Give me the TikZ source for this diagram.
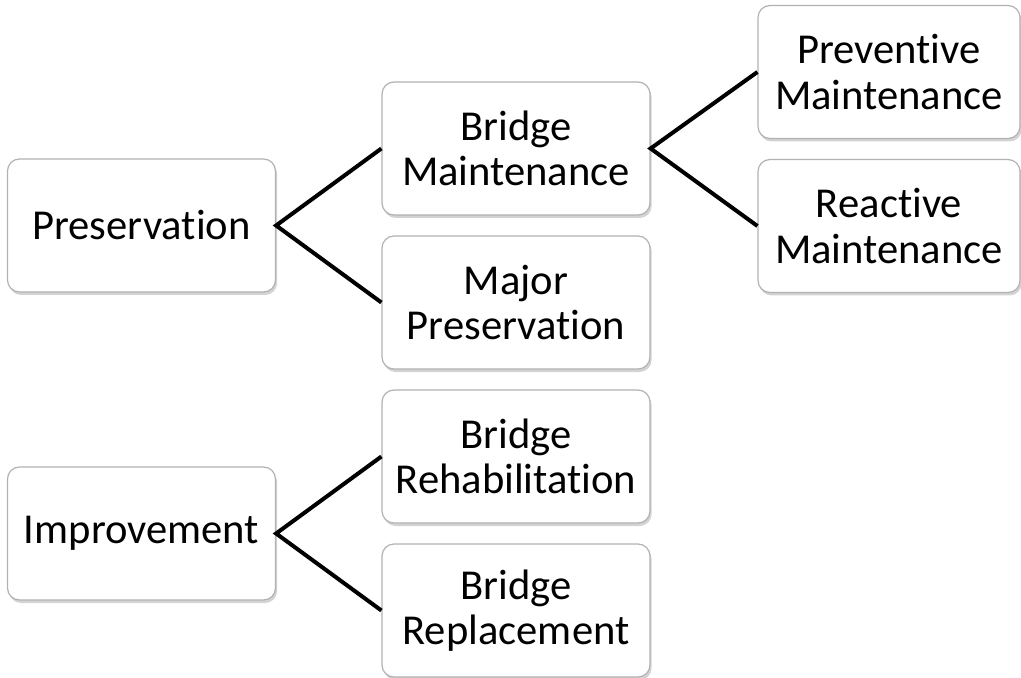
\documentclass[tikz,border=0pt]{standalone}
\usepackage{fontspec}
\setmainfont[Ligatures={NoCommon}]{Carlito}
\usetikzlibrary{shadows}
\tikzset{
  box/.style={draw=gray!60, line width=0.6pt, rounded corners=6pt, fill=white,
    minimum width=134pt, minimum height=66.5pt, align=center,
    font=\fontsize{21.3}{22.8}\selectfont,
    drop shadow={shadow xshift=0.8pt, shadow yshift=-1.5pt, opacity=0.35, fill=gray}},
  link/.style={line width=2pt}
}
\begin{document}
\begin{tikzpicture}[x=0.5pt,y=-0.5pt]
  \useasboundingbox (0,0) rectangle (1021,678);

  \node[box] (pres) at (141.5,225.5) {Preservation};
  \node[box] (impr) at (141.5,533.5) {Improvement};

  \node[box] (maint) at (516,148.5) {Bridge\\Maintenance};
  \node[box] (major) at (516,302.5) {Major\\Preservation};
  \node[box] (rehab) at (516,456.5) {Bridge\\Rehabilitation};
  \node[box] (repl) at (516,610.5) {Bridge\\Replacement};

  \node[box, minimum width=131pt] (prev) at (889,72) {Preventive\\Maintenance};
  \node[box, minimum width=131pt] (react) at (889,226) {Reactive\\Maintenance};

  \draw[link] (maint.west) -- (pres.east) -- (major.west);
  \draw[link] (rehab.west) -- (impr.east) -- (repl.west);
  \draw[link] (prev.west) -- (maint.east) -- (react.west);
\end{tikzpicture}
\end{document}
